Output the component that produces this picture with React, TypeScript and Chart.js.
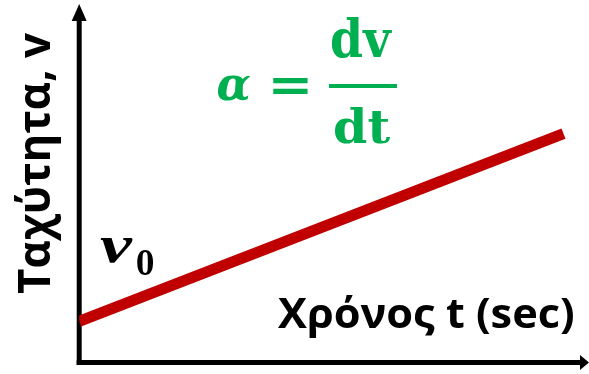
import React, { useEffect, useRef } from "react";
import { Chart, registerables } from "chart.js";

Chart.register(...registerables);

// ---- data ----
const times: number[] = [0, 9.5];
const velocities: number[] = [1.15, 6.4];
const xTitle = "Χρόνος t (sec)";
const yTitle = "Ταχύτητα, v";
const v0Main = "v";
const v0Sub = "0";
const formulaLhs = "α";
const formulaEq = "=";
const formulaNum = "dv";
const formulaDen = "dt";

const RED = "#C00000";
const GREEN = "#00B050";

type FontFn = (s: number) => string;
const sansBold: FontFn = (s) => `bold ${s}px "Open Sans", "Noto Sans", sans-serif`;
const serifBold: FontFn = (s) => `bold ${s}px "DejaVu Serif", "Liberation Serif", serif`;
const serifBoldItalic: FontFn = (s) => `italic bold ${s}px "DejaVu Serif", "Liberation Serif", serif`;
const timesBoldItalic: FontFn = (s) => `italic bold ${s}px "Liberation Serif", "DejaVu Serif", serif`;

// fit text ink horizontally to [x0,x1], with reference glyph height base-refTop
function fitText(ctx: CanvasRenderingContext2D, text: string, font: FontFn, x0: number, x1: number, base: number, refChar: string, refTop: number) {
  ctx.font = font(100);
  ctx.textAlign = "left";
  ctx.textBaseline = "alphabetic";
  const m = ctx.measureText(text);
  const r = ctx.measureText(refChar);
  const inkW = m.actualBoundingBoxLeft + m.actualBoundingBoxRight;
  const sx = (x1 - x0) / inkW;
  const sy = (base - refTop) / r.actualBoundingBoxAscent;
  ctx.save();
  ctx.translate(x0, base);
  ctx.scale(sx, sy);
  ctx.fillText(text, m.actualBoundingBoxLeft, 0);
  ctx.restore();
}

// fit text ink to box
function fitBox(ctx: CanvasRenderingContext2D, text: string, font: FontFn, x0: number, x1: number, y0: number, y1: number) {
  ctx.font = font(100);
  ctx.textAlign = "left";
  ctx.textBaseline = "alphabetic";
  const m = ctx.measureText(text);
  const inkW = m.actualBoundingBoxLeft + m.actualBoundingBoxRight;
  const inkH = m.actualBoundingBoxAscent + m.actualBoundingBoxDescent;
  ctx.save();
  ctx.translate(x0, y0);
  ctx.scale((x1 - x0) / inkW, (y1 - y0) / inkH);
  ctx.fillText(text, m.actualBoundingBoxLeft, m.actualBoundingBoxAscent);
  ctx.restore();
}

const axesPlugin = {
  id: "arrowAxes",
  beforeDatasetsDraw(chart: any) {
    const ctx: CanvasRenderingContext2D = chart.ctx;
    const ca = chart.chartArea;
    const ax = ca.left;
    const ay = ca.bottom;
    ctx.save();
    ctx.fillStyle = "#000";
    ctx.strokeStyle = "#000";
    ctx.lineWidth = 5;
    ctx.lineCap = "butt";
    // y axis
    ctx.beginPath();
    ctx.moveTo(ax, ay + 2.5);
    ctx.lineTo(ax, ca.top + 15);
    ctx.stroke();
    ctx.beginPath();
    ctx.moveTo(ax, ca.top - 1);
    ctx.lineTo(ax - 7.5, ca.top + 16);
    ctx.lineTo(ax + 7.5, ca.top + 16);
    ctx.closePath();
    ctx.fill();
    // x axis
    ctx.beginPath();
    ctx.moveTo(ax - 2.5, ay);
    ctx.lineTo(ca.right - 6, ay);
    ctx.stroke();
    ctx.beginPath();
    ctx.moveTo(ca.right, ay);
    ctx.lineTo(ca.right - 9, ay - 7.5);
    ctx.lineTo(ca.right - 9, ay + 7.5);
    ctx.closePath();
    ctx.fill();
    ctx.restore();
  },
  afterDraw(chart: any) {
    const ctx: CanvasRenderingContext2D = chart.ctx;
    ctx.save();
    // axis titles
    ctx.fillStyle = "#000";
    fitText(ctx, xTitle, sansBold, 278, 573, 327.5, "X", 298.5);
    ctx.save();
    ctx.translate(49.5, 293);
    ctx.rotate(-Math.PI / 2);
    fitText(ctx, yTitle, sansBold, 0, 260, 0, "T", -32.5);
    ctx.restore();
    // v0
    fitBox(ctx, v0Main, timesBoldItalic, 100, 133, 238, 263);
    fitBox(ctx, v0Sub, serifBold, 137, 153, 250, 275);
    // formula
    ctx.fillStyle = GREEN;
    fitBox(ctx, formulaLhs, serifBoldItalic, 217, 250, 75, 102);
    fitBox(ctx, formulaEq, serifBold, 273, 308, 78, 94);
    fitText(ctx, formulaNum, serifBold, 332, 392, 57, "d", 17);
    ctx.fillRect(329, 84, 68, 4);
    fitText(ctx, formulaDen, serifBold, 335, 390, 143, "d", 107);
    ctx.restore();
  },
};

export default function App() {
  const ref = useRef<HTMLCanvasElement>(null);
  useEffect(() => {
    document.body.style.margin = "0";
    const canvas = ref.current!;
    const chart = new Chart(canvas, {
      type: "line",
      data: {
        datasets: [
          {
            data: times.map((t, i) => ({ x: t, y: velocities[i] })),
            borderColor: RED,
            borderWidth: 11,
            borderCapStyle: "butt",
            pointRadius: 0,
            fill: false,
            tension: 0,
          },
        ],
      },
      options: {
        responsive: false,
        animation: false,
        layout: { padding: { left: 79.2, top: 5, right: 0, bottom: 11.5 } },
        plugins: { legend: { display: false }, tooltip: { enabled: false }, title: { display: false } },
        scales: {
          x: { type: "linear", min: 0, max: 10, display: false },
          y: { type: "linear", min: 0, max: 10, display: false },
        },
      },
      plugins: [axesPlugin],
    } as any);
    return () => chart.destroy();
  }, []);
  return (
    <div style={{ position: "fixed", left: 0, top: 0, width: 589, height: 374, background: "#fff" }}>
      <canvas ref={ref} width={589} height={374} style={{ display: "block" }} />
    </div>
  );
}
